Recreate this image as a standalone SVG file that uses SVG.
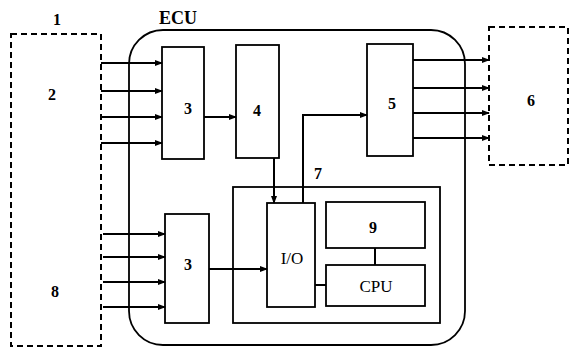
<svg xmlns="http://www.w3.org/2000/svg" width="572" height="349" viewBox="0 0 572 349">
<style>
.box{fill:none;stroke:#000;stroke-width:1.8}
.dash{fill:none;stroke:#000;stroke-width:2;stroke-dasharray:6,4}
.ln{fill:none;stroke:#000;stroke-width:2}
.t{font-family:"Liberation Serif",serif;font-size:16px;font-weight:bold;fill:#000;text-anchor:middle;dominant-baseline:central}
.w{font-weight:normal;font-size:17px}
</style>
<defs>
<marker id="ah" markerWidth="8" markerHeight="6" refX="7" refY="3" orient="auto" markerUnits="userSpaceOnUse">
<path d="M0,0 L8,3 L0,6 Z" fill="#000"/>
</marker>
</defs>
<rect width="572" height="349" fill="#fff"/>
<g id="ecu">
<rect class="box" x="129" y="30" width="336" height="315" rx="34" ry="34"/>
<text class="t" x="178" y="18" style="font-size:18px">ECU</text>
</g>
<g id="sensors">
<rect class="dash" x="11" y="34" width="90" height="312"/>
<text class="t" x="57" y="19">1</text>
<text class="t" x="52" y="94">2</text>
<text class="t" x="55" y="291">8</text>
</g>
<g id="actuators">
<rect class="dash" x="489" y="27" width="79" height="138"/>
<text class="t" x="531" y="100">6</text>
</g>
<g id="in3a"><rect class="box" x="162" y="47" width="42" height="112"/><text class="t" x="188" y="108">3</text></g>
<g id="b4"><rect class="box" x="236" y="45" width="43" height="113"/><text class="t" x="257" y="110">4</text></g>
<g id="b5"><rect class="box" x="367" y="44" width="46" height="112"/><text class="t" x="392" y="103">5</text></g>
<g id="in3b"><rect class="box" x="165" y="214" width="44" height="109"/><text class="t" x="188" y="264">3</text></g>
<g id="micro"><rect class="box" x="233" y="187" width="207" height="136"/><text class="t" x="318" y="173">7</text></g>
<g id="io"><rect class="box" x="267" y="203" width="48" height="104"/><text class="t w" x="292" y="258">I/O</text></g>
<g id="b9"><rect class="box" x="326" y="202" width="99" height="46"/><text class="t" x="373" y="227">9</text></g>
<g id="cpu"><rect class="box" x="326" y="265" width="99" height="41"/><text class="t w" x="376" y="286">CPU</text></g>
<g id="connectors">
<path class="ln" marker-end="url(#ah)" d="M101,63 H162"/>
<path class="ln" marker-end="url(#ah)" d="M101,91 H162"/>
<path class="ln" marker-end="url(#ah)" d="M101,117 H162"/>
<path class="ln" marker-end="url(#ah)" d="M101,143 H162"/>
<path class="ln" marker-end="url(#ah)" d="M103,234 H165"/>
<path class="ln" marker-end="url(#ah)" d="M103,257 H165"/>
<path class="ln" marker-end="url(#ah)" d="M103,282 H165"/>
<path class="ln" marker-end="url(#ah)" d="M103,307 H165"/>
<path class="ln" marker-end="url(#ah)" d="M204,117 H236"/>
<path class="ln" marker-end="url(#ah)" d="M274,158 V203"/>
<path class="ln" marker-end="url(#ah)" d="M303,203 V115 H367"/>
<path class="ln" marker-end="url(#ah)" d="M209,269 H267"/>
<path class="ln" marker-end="url(#ah)" d="M413,60 H489"/>
<path class="ln" marker-end="url(#ah)" d="M413,88 H489"/>
<path class="ln" marker-end="url(#ah)" d="M413,113 H489"/>
<path class="ln" marker-end="url(#ah)" d="M413,138 H489"/>
<path class="ln" d="M375,248 V265"/>
<path class="ln" d="M315,285 H326"/>
</g>
</svg>
